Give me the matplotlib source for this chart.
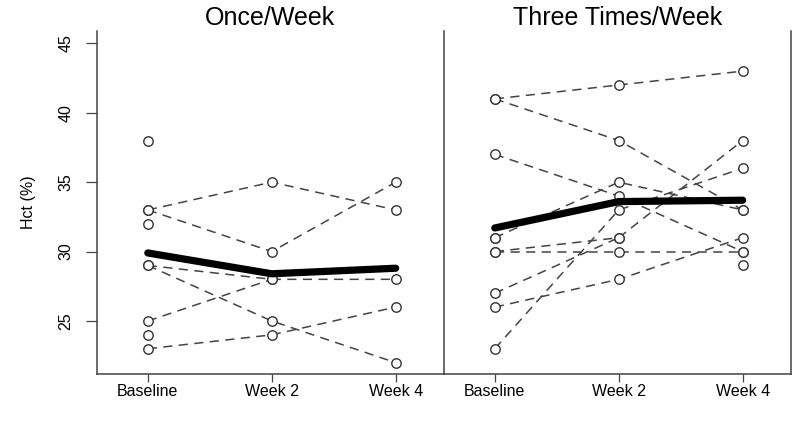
import numpy as np
import matplotlib
matplotlib.use("Agg")
import matplotlib.pyplot as plt

plt.rcParams['font.family'] = ['Liberation Sans', 'DejaVu Sans']

visits = ["Baseline", "Week 2", "Week 4"]
panel_titles = ["Once/Week", "Three Times/Week"]
y_ticks = [25, 30, 35, 40, 45]
nan = np.nan

# Once/Week: one row per subject (Baseline, Week 2, Week 4)
once_subjects = [
    [33, 35, 33],
    [33, 30, 35],
    [29, 28, 28],
    [29, 25, 22],
    [25, 28, nan],
    [23, 24, 26],
    [38, nan, nan],
    [32, nan, nan],
    [24, nan, nan],
]
once_mean = [29.9, 28.4, 28.8]

# Three Times/Week
three_subjects = [
    [41, 42, 43],
    [41, 38, 33],
    [37, 34, 30],
    [31, 35, 33],
    [23, 33, 36],
    [30, 31, 38],
    [27, 31, nan],
    [30, 30, 30],
    [26, 28, 31],
    [31, nan, nan],
    [nan, nan, 29],
]
three_mean = [31.7, 33.6, 33.7]

fig = plt.figure(figsize=(8, 4.25), dpi=100)
W, H = 800, 425
top_px, bot_px = 31, 374
ax_l = fig.add_axes([97 / W, 1 - bot_px / H, 347 / W, (bot_px - top_px) / H])
ax_r = fig.add_axes([444 / W, 1 - bot_px / H, 347 / W, (bot_px - top_px) / H])

xs = np.arange(1, len(visits) + 1)
spine_col = "#444444"
for ax, subs, mean, title in [(ax_l, once_subjects, once_mean, panel_titles[0]),
                               (ax_r, three_subjects, three_mean, panel_titles[1])]:
    ax.patch.set_alpha(0)
    for s in subs:
        s = np.array(s, dtype=float)
        ax.plot(xs, s, linestyle=(0, (6, 4.2)), color="#444444", lw=1.1, zorder=2)
        ax.plot(xs, s, linestyle="none", marker="o", markersize=6.8,
                markerfacecolor="white", markeredgecolor="#333333",
                markeredgewidth=1.0, zorder=3)
    ax.plot(xs, mean, color="black", lw=5.2, solid_capstyle="round", zorder=4)
    ax.set_xlim(0.59, 3.39)
    ax.set_ylim(21.18, 45.89)
    ax.set_xticks(xs)
    ax.set_xticklabels(visits, fontsize=11.5)
    ax.tick_params(axis="x", direction="out", length=6, width=0.9, color=spine_col, pad=1.5)
    ax.spines["top"].set_visible(False)
    for sp in ax.spines.values():
        sp.set_color(spine_col)
        sp.set_linewidth(1.1)
        sp.set_zorder(5)
    ax.text(0.5, 1 + (top_px - 18) / (bot_px - top_px), title, transform=ax.transAxes,
            ha="center", va="center", fontsize=18)

ax_l.set_yticks(y_ticks)
ax_l.set_yticklabels([str(v) for v in y_ticks], rotation=90, va="center", fontsize=11.5)
ax_l.tick_params(axis="y", direction="out", length=8, width=0.9, color=spine_col, pad=9)
ax_l.set_ylabel("Hct (%)", fontsize=11.5, labelpad=16)
ax_l.spines["right"].set_visible(False)

ax_r.spines["left"].set_visible(True)
ax_r.spines["right"].set_visible(True)
ax_r.set_yticks([])

fig.savefig("out.png", dpi=100)
